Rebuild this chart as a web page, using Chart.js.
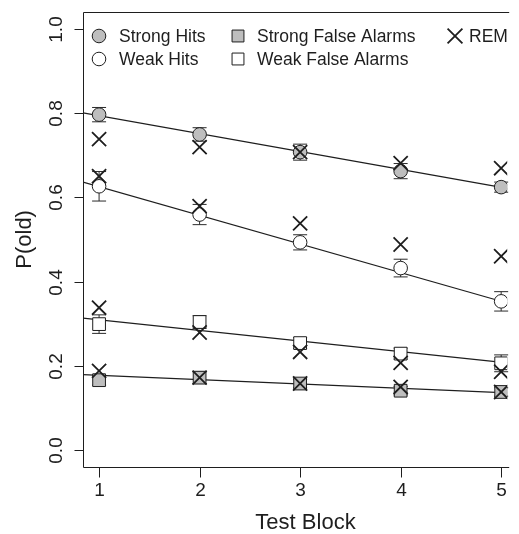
<!DOCTYPE html>
<html>
<head>
<meta charset="utf-8">
<script src="https://cdn.jsdelivr.net/npm/chart.js@4"></script>
<style>
  html, body { margin: 0; padding: 0; background: #fff; overflow: hidden; }
  canvas { display: block; }
</style>
</head>
<body>
<canvas id="c" width="519" height="534"></canvas>
<script>
// test blocks (x axis)
const blocks = [1, 2, 3, 4, 5];
const xTicks = [1, 2, 3, 4, 5];
const yTicks = [0, 0.2, 0.4, 0.6, 0.8, 1.0];
const yTickLabels = ['0.0', '0.2', '0.4', '0.6', '0.8', '1.0'];

// observed P(old) with error bars
const strongHits    = [0.796, 0.749, 0.707, 0.662, 0.624];
const strongHitsErr = [0.017, 0.016, 0.019, 0.018, 0.012];
const weakHits      = [0.626, 0.559, 0.493, 0.432, 0.353];
const weakHitsErr   = [0.035, 0.024, 0.018, 0.021, 0.023];
const strongFA      = [0.166, 0.172, 0.158, 0.141, 0.138];
const strongFAErr   = [0.012, 0.014, 0.010, 0.010, 0.010];
const weakFA        = [0.299, 0.304, 0.254, 0.229, 0.206];
const weakFAErr     = [0.022, 0.015, 0.013, 0.013, 0.020];

// REM model predictions
const remStrongHits = [0.738, 0.719, 0.707, 0.681, 0.669];
const remWeakHits   = [0.650, 0.579, 0.538, 0.488, 0.460];
const remWeakFA     = [0.338, 0.279, 0.233, 0.207, 0.186];
const remStrongFA   = [0.188, 0.172, 0.158, 0.150, 0.138];

// fitted regression lines, values at the visible plot edges
const fitX          = [0.84, 5.06];
const fitStrongHits = [0.800, 0.621];
const fitWeakHits   = [0.636, 0.349];
const fitWeakFA     = [0.313, 0.207];
const fitStrongFA   = [0.179, 0.136];

const INK = '#1e1e1e';
const GRAY = '#bebebe';
const FONT = '"Liberation Sans", Arial, Helvetica, sans-serif';

const pts = ys => blocks.map((b, i) => ({ x: b, y: ys[i] }));
const fit = ys => fitX.map((x, i) => ({ x, y: ys[i] }));

function obsSet(label, ys, errs, style, fill) {
  const isRect = style === 'rect';
  return {
    label, data: pts(ys), errors: errs, order: 1,
    pointStyle: style, pointRadius: isRect ? 9 : 6.8,
    backgroundColor: fill, borderColor: INK, borderWidth: 1, showLine: false,
  };
}
function remSet(ys) {
  return {
    label: 'REM', data: pts(ys), order: 0,
    pointStyle: 'crossRot', pointRadius: 10, borderColor: INK, borderWidth: 1.8, showLine: false,
  };
}
function fitSet(ys) {
  return {
    label: 'fit', data: fit(ys), order: 2, showLine: true,
    pointRadius: 0, borderColor: INK, borderWidth: 1.2, fill: false,
  };
}

// error bars drawn under the points
const errorBars = {
  id: 'errorBars',
  beforeDatasetsDraw(chart) {
    const { ctx, scales: { y } } = chart;
    ctx.save();
    ctx.strokeStyle = '#2a2a2a';
    ctx.lineWidth = 1;
    chart.data.datasets.forEach((ds, i) => {
      if (!ds.errors) return;
      chart.getDatasetMeta(i).data.forEach((el, j) => {
        const v = ds.data[j].y, e = ds.errors[j];
        const top = y.getPixelForValue(v + e), bot = y.getPixelForValue(v - e);
        ctx.beginPath();
        ctx.moveTo(el.x, top); ctx.lineTo(el.x, bot);
        ctx.moveTo(el.x - 7, top); ctx.lineTo(el.x + 7, top);
        ctx.moveTo(el.x - 7, bot); ctx.lineTo(el.x + 7, bot);
        ctx.stroke();
      });
    });
    ctx.restore();
  },
};

// R-style box (its right side is cut off by the frame), axes and legend
const rFrame = {
  id: 'rFrame',
  afterDraw(chart) {
    const { ctx, chartArea: a, scales: { x, y } } = chart;
    ctx.save();
    ctx.strokeStyle = INK;
    ctx.lineWidth = 1;
    const L = Math.round(a.left) + 0.5, T = Math.round(a.top) + 0.5, B = Math.round(a.bottom) + 0.5;
    ctx.beginPath();
    ctx.moveTo(a.right + 2, T); ctx.lineTo(L, T); ctx.lineTo(L, B); ctx.lineTo(a.right + 2, B);
    ctx.stroke();

    ctx.fillStyle = INK;
    ctx.font = '19px ' + FONT;
    ctx.textAlign = 'center';
    ctx.textBaseline = 'middle';
    xTicks.forEach(t => {
      const px = Math.round(x.getPixelForValue(t)) + 0.5;
      ctx.beginPath(); ctx.moveTo(px, B); ctx.lineTo(px, B + 10); ctx.stroke();
      ctx.fillText(String(t), px, 491);
    });
    yTicks.forEach((t, i) => {
      const py = Math.round(y.getPixelForValue(t)) + 0.5;
      ctx.beginPath(); ctx.moveTo(L, py); ctx.lineTo(L - 9, py); ctx.stroke();
      ctx.save();
      ctx.translate(57, py);
      ctx.rotate(-Math.PI / 2);
      ctx.fillText(yTickLabels[i], 0, 0);
      ctx.restore();
    });

    ctx.font = '22px ' + FONT;
    ctx.fillText('Test Block', 305.5, 523);
    ctx.save();
    ctx.translate(25, (a.top + a.bottom) / 2);
    ctx.rotate(-Math.PI / 2);
    ctx.fillText('P(old)', 0, 0);
    ctx.restore();

    // legend
    const items = [
      { text: 'Strong Hits', style: 'circle', r: 6.8, fill: GRAY, sx: 99, tx: 119, ty: 36 },
      { text: 'Weak Hits', style: 'circle', r: 6.8, fill: '#fff', sx: 99, tx: 119, ty: 59 },
      { text: 'Strong False Alarms', style: 'rect', r: 8.4, fill: GRAY, sx: 238, tx: 257, ty: 36 },
      { text: 'Weak False Alarms', style: 'rect', r: 8.4, fill: '#fff', sx: 238, tx: 257, ty: 59 },
      { text: 'REM', style: 'crossRot', r: 10.5, fill: INK, sx: 455, tx: 469, ty: 36 },
    ];
    ctx.font = '17.5px ' + FONT;
    ctx.textAlign = 'left';
    items.forEach(it => {
      ctx.fillStyle = it.fill;
      ctx.strokeStyle = INK;
      ctx.lineWidth = it.style === 'crossRot' ? 1.8 : 1;
      Chart.helpers.drawPoint(ctx, { pointStyle: it.style, radius: it.r, rotation: 0, borderWidth: ctx.lineWidth }, it.sx, it.ty);
      ctx.fillStyle = INK;
      ctx.fillText(it.text, it.tx, it.ty + 1);
    });
    ctx.restore();
  },
};

new Chart(document.getElementById('c'), {
  type: 'scatter',
  data: {
    datasets: [
      remSet(remStrongHits), remSet(remWeakHits), remSet(remWeakFA), remSet(remStrongFA),
      obsSet('Strong Hits', strongHits, strongHitsErr, 'circle', GRAY),
      obsSet('Weak Hits', weakHits, weakHitsErr, 'circle', '#fff'),
      obsSet('Strong False Alarms', strongFA, strongFAErr, 'rect', GRAY),
      obsSet('Weak False Alarms', weakFA, weakFAErr, 'rect', '#fff'),
      fitSet(fitStrongHits), fitSet(fitWeakHits), fitSet(fitWeakFA), fitSet(fitStrongFA),
    ],
  },
  options: {
    responsive: false,
    animation: false,
    layout: { padding: { left: 83, top: 11.4, right: 0, bottom: 67 } },
    plugins: { legend: { display: false }, tooltip: { enabled: false } },
    scales: {
      x: { type: 'linear', min: 0.84, max: 5.06, display: false },
      y: { type: 'linear', min: -0.04, max: 1.04, display: false },
    },
  },
  plugins: [errorBars, rFrame],
});
</script>
</body>
</html>
